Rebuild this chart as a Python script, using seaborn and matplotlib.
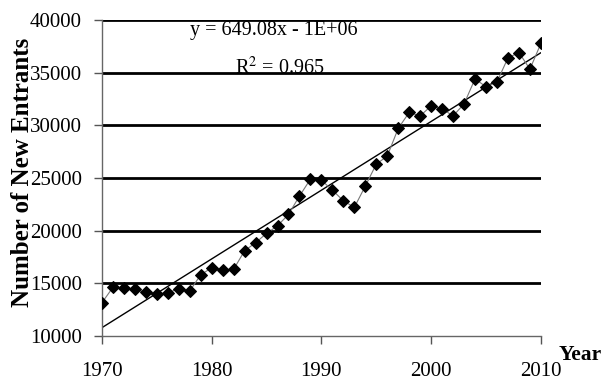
import numpy as np
import pandas as pd
import matplotlib
matplotlib.use("Agg")
import matplotlib.pyplot as plt
import seaborn as sns

years = list(range(1970, 2011))
entrants = [13160, 14620, 14530, 14430, 14150, 13990, 14110, 14490, 14270, 15820,
            16480, 16270, 16330, 18100, 18860, 19750, 20470, 21550, 23290, 24900,
            24800, 23860, 22850, 22220, 24240, 26330, 27090, 29720, 31240, 30910,
            31860, 31580, 30910, 32050, 34430, 33670, 34140, 36420, 36930, 35350,
            37790]
y_ticks = [10000, 15000, 20000, 25000, 30000, 35000, 40000]
x_ticks = [1970, 1980, 1990, 2000, 2010]
eq_text = "y = 649.08x - 1E+06"
r2_text = r"R$^{2}$ = 0.965"

df = pd.DataFrame({"Year": years, "Entrants": entrants})

sns.set_style("white")
plt.rcParams["font.family"] = ["Liberation Serif", "DejaVu Serif"]
plt.rcParams["mathtext.fontset"] = "stix"
plt.rcParams["text.color"] = "black"
plt.rcParams["xtick.labelcolor"] = "black"
plt.rcParams["ytick.labelcolor"] = "black"

fig = plt.figure(figsize=(6.03, 3.81), dpi=100)
ax = fig.add_axes([0.169, 0.118, 0.728, 0.829])

# gridlines
for t in y_ticks[1:]:
    ax.axhline(t, color="black", lw=2.0, zorder=1)

sns.lineplot(data=df, x="Year", y="Entrants", ax=ax, color="#777777", lw=0.8,
             marker="D", markersize=6.5, markerfacecolor="black",
             markeredgecolor="black", zorder=3)
sns.regplot(data=df, x="Year", y="Entrants", ax=ax, scatter=False, ci=None,
            truncate=True, line_kws={"color": "black", "lw": 1.0, "zorder": 2})

ax.set_xlim(1970, 2010)
ax.set_ylim(10000, 40000)
ax.set_xticks(x_ticks)
ax.set_yticks(y_ticks)
ax.tick_params(axis="both", labelsize=15, direction="out", length=5.8,
               width=1, color="#555555", labelcolor="black",
               left=True, bottom=True)
ax.tick_params(axis="y", pad=8.6)
ax.tick_params(axis="x", pad=13)
for s in ["top", "right"]:
    ax.spines[s].set_visible(False)
for s in ["left", "bottom"]:
    ax.spines[s].set_color("#666666")
    ax.spines[s].set_linewidth(1.0)

ax.set_xlabel("")
ax.set_ylabel("")
fig.text(0.038, 0.548, "Number of New Entrants", rotation=90, ha="center",
         va="center", fontsize=18, fontweight="bold", color="black")
fig.text(0.963, 0.068, "Year", ha="center", va="center", fontsize=15.5,
         fontweight="bold", color="black")

ax.text(1985.7, 39000, eq_text, ha="center", va="center", fontsize=14.5,
        color="black")
ax.text(1986.2, 35500, r2_text, ha="center", va="center", fontsize=14.5,
        color="black")

fig.savefig("out.png", dpi=100)
